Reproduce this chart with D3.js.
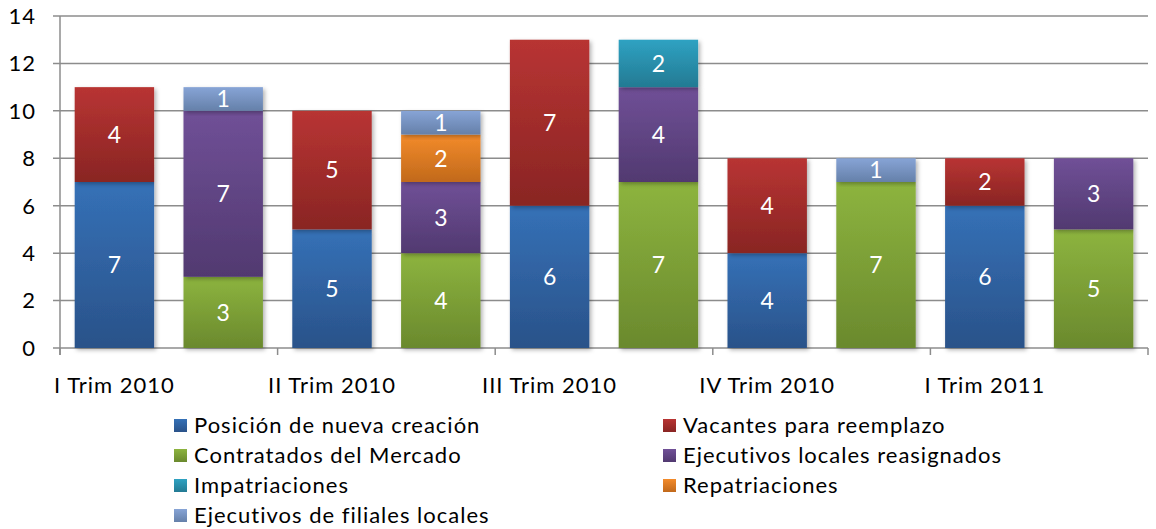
<!DOCTYPE html>
<html><head><meta charset="utf-8">
<script src="https://cdn.jsdelivr.net/npm/d3@7"></script>
<style>body{margin:0;background:#fff}svg{display:block}text{font-family:"Lato","Open Sans",sans-serif}</style>
</head><body>
<svg id="c" width="1156" height="529"></svg>
<script>
const categories = ["I Trim 2010","b2","II Trim 2010","b4","III Trim 2010","b6","IV Trim 2010","b8","I Trim 2011","b10"];
const tickLabels = ["I Trim 2010","II Trim 2010","III Trim 2010","IV Trim 2010","I Trim 2011"];
const seriesNames = ["Posición de nueva creación","Vacantes para reemplazo","Contratados del Mercado","Ejecutivos locales reasignados","Impatriaciones","Repatriaciones","Ejecutivos de filiales locales"];
const posicion   = [7,0,5,0,6,0,4,0,6,0];
const vacantes   = [4,0,5,0,7,0,4,0,2,0];
const contratados= [0,3,0,4,0,7,0,7,0,5];
const ejecLocales= [0,7,0,3,0,4,0,0,0,3];
const impatri    = [0,0,0,0,0,2,0,0,0,0];
const repatri    = [0,0,0,2,0,0,0,0,0,0];
const filiales   = [0,1,0,1,0,0,0,1,0,0];
const yTicks = [0,2,4,6,8,10,12,14];
const colorsTop = ["#3571b7","#b83433","#8db43f","#705097","#2fa2c2","#f38b2b","#87a4d6"];
const colorsBot = ["#2a5289","#892523","#6a892d","#513970","#237a93","#c1691b","#6580a9"];

const seriesVals = [posicion,vacantes,contratados,ejecLocales,impatri,repatri,filiales];
const rows = categories.map((c,i)=>{const o={cat:c}; seriesNames.forEach((s,j)=>o[s]=seriesVals[j][i]); return o;});
const stack = d3.stack().keys(seriesNames)(rows);

const svg = d3.select("#c");
const L=60,R=1148,T=16,B=348;
const x = d3.scaleBand().domain(categories).range([L,R]).paddingInner(0.27).paddingOuter(0.135);
const y = d3.scaleLinear().domain([0,14]).range([B,T]);

const defs = svg.append("defs");
seriesNames.forEach((s,j)=>{
  const g = defs.append("linearGradient").attr("id","g"+j).attr("x1",0).attr("y1",0).attr("x2",0).attr("y2",1);
  g.append("stop").attr("offset","0%").attr("stop-color",colorsTop[j]);
  g.append("stop").attr("offset","100%").attr("stop-color",colorsBot[j]);
});
const f = defs.append("filter").attr("id","sh").attr("x","-10%").attr("y","-10%").attr("width","130%").attr("height","130%");
f.append("feDropShadow").attr("dx",2).attr("dy",2).attr("stdDeviation",2).attr("flood-color","#000").attr("flood-opacity",0.3);

// gridlines
svg.append("g").selectAll("line").data(yTicks).join("line")
  .attr("x1",L-7).attr("x2",R).attr("y1",d=>y(d)).attr("y2",d=>y(d))
  .attr("stroke","#8c8c8c").attr("stroke-width",1.5);
// y labels
svg.append("g").selectAll("text").data(yTicks).join("text")
  .attr("x",36).attr("y",d=>y(d)).attr("dy","0.36em").attr("text-anchor","end")
  .attr("font-size",22).attr("letter-spacing",1).attr("fill","#000").text(d=>d);
// left axis
svg.append("line").attr("x1",L).attr("x2",L).attr("y1",T).attr("y2",B+7).attr("stroke","#8c8c8c").attr("stroke-width",1.5);
// x ticks
const step = x.step();
const xt = d3.range(0,categories.length+1,2).map(i=>L+i*step);
svg.append("g").selectAll("line").data(xt).join("line")
  .attr("x1",d=>d).attr("x2",d=>d).attr("y1",B).attr("y2",B+7).attr("stroke","#8c8c8c").attr("stroke-width",1.5);

// bars
const barsG = svg.append("g");
stack.forEach((ser,j)=>{
  ser.forEach((d,i)=>{
    if(d[1]-d[0]<=0) return;
    const cat = categories[i];
    barsG.append("rect").attr("x",x(cat)).attr("width",x.bandwidth())
      .attr("y",y(d[1])).attr("height",y(d[0])-y(d[1]))
      .attr("fill","url(#g"+j+")").attr("filter","url(#sh)");
  });
});
const labG = svg.append("g");
stack.forEach((ser,j)=>{
  ser.forEach((d,i)=>{
    const v=d[1]-d[0]; if(v<=0) return;
    labG.append("text").attr("x",x(categories[i])+x.bandwidth()/2).attr("y",(y(d[0])+y(d[1]))/2)
      .attr("dy","0.36em").attr("text-anchor","middle").attr("font-size",23).attr("fill","#fff").text(v);
  });
});

// x labels
svg.append("g").selectAll("text").data(tickLabels).join("text")
  .attr("x",(d,i)=>x(categories[i*2])+x.bandwidth()/2).attr("y",393)
  .attr("text-anchor","middle").attr("font-size",22).attr("letter-spacing",1).attr("fill","#000").text(d=>d);

// legend
const lg = svg.append("g");
seriesNames.forEach((s,j)=>{
  const col=j%2, row=Math.floor(j/2);
  const lx = col===0?174:663, ly = 425+row*30;
  lg.append("rect").attr("x",lx).attr("y",ly-6).attr("width",13).attr("height",13).attr("fill","url(#g"+j+")");
  lg.append("text").attr("x",lx+20).attr("y",ly).attr("dy","0.36em").attr("font-size",22).attr("letter-spacing",1).attr("fill","#000").text(s);
});
</script>
</body></html>
